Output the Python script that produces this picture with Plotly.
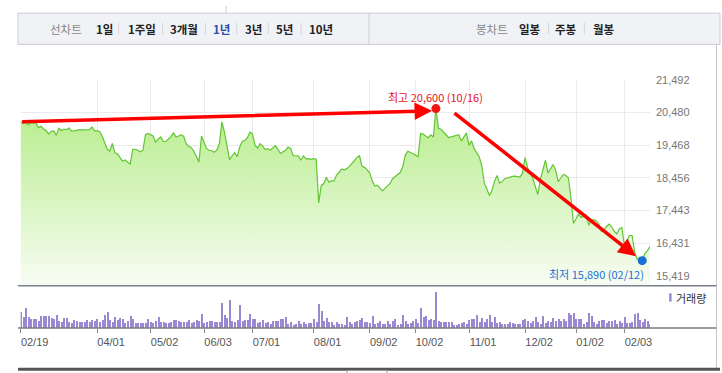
import plotly.graph_objects as go

W, H = 722, 373

# ---------------- data ----------------
tick_labels = ["02/19", "04/01", "05/02", "06/03", "07/01", "08/01",
               "09/02", "10/02", "11/01", "12/02", "01/02", "02/03"]
tick_index = [0, 30, 51, 72, 91, 115, 137, 155, 176, 198, 218, 237]

price = [
    20200, 20140, 20170, 20100, 20170, 20150, 20150, 20010, 20050, 19970,
    19920, 19810, 19900, 19910, 19770, 19990, 19920, 19960, 19950, 20000,
    19900, 19910, 19940, 19950, 19940, 19940, 19940, 19950, 20030, 19910,
    19910, 19890, 19750, 19560, 19340, 19280, 19520, 19230, 19200, 19080,
    18970, 19010, 18950, 18880, 19340, 19340, 19310, 19260, 19310, 19790,
    19830, 19790, 19750, 19560, 19660, 19720, 19580, 19580, 19660, 19730,
    19850, 19720, 19750, 19790, 19740, 19510, 19430, 19390, 19280, 19110,
    18950, 19750, 19540, 19360, 19310, 19300, 19250, 19310, 19510, 20190,
    19870, 19410, 19020, 19140, 19240, 19110, 19410, 19590, 19610, 19700,
    19870, 19820, 19460, 19380, 19510, 19440, 19330, 19360, 19310, 19390,
    19450, 19340, 19210, 19260, 19310, 19410, 19360, 19140, 19140, 19140,
    19000, 19140, 19040, 19050, 19030, 19050, 19030, 17680, 18220, 18280,
    18470, 18320, 18360, 18360, 18540, 18630, 18720, 18700, 18740, 18810,
    18890, 18990, 19090, 19140, 18820, 18780, 18700, 18610, 18370, 18200,
    18230, 18130, 18050, 18130, 18200, 18280, 18430, 18490, 18550, 18620,
    18800, 19160, 19280, 19230, 19200, 19160, 19110, 19830, 19810, 19750,
    19700, 19790, 19720, 20600, 19990, 19960, 19890, 19790, 19700, 19720,
    19750, 19770, 19790, 19600, 19740, 19850, 19460, 19600, 19360, 19230,
    19110, 18830, 18290, 18110, 17910, 18060, 18340, 18530, 18290, 18340,
    18430, 18450, 18480, 18500, 18510, 18490, 18480, 18600, 19080, 18770,
    18600, 18450, 18190, 17940, 18410, 18700, 19000, 18600, 18730, 18870,
    18700, 18340, 18450, 18560, 18530, 18460, 17840, 17040, 17180, 17330,
    17230, 17260, 17300, 16990, 17150, 17160, 17120, 17020, 16800, 16840,
    16950, 17020, 16940, 16800, 16720, 16870, 16920, 16360, 16520, 16670,
    16670, 16160, 15930, 15990, 15890, 16110, 16190, 16330,
]

volume_k = [
    47, 32, 59, 32, 26, 26, 26, 20, 35, 35,
    35, 35, 30, 26, 38, 20, 17, 29, 29, 17,
    14, 23, 20, 17, 17, 17, 23, 17, 23, 20,
    26, 17, 23, 38, 47, 23, 17, 32, 23, 29,
    26, 14, 20, 35, 26, 14, 14, 14, 14, 14,
    26, 17, 14, 20, 32, 17, 17, 14, 14, 17,
    23, 23, 20, 17, 17, 17, 23, 14, 17, 23,
    20, 41, 14, 17, 20, 20, 17, 17, 17, 74,
    38, 29, 83, 20, 17, 23, 68, 20, 23, 23,
    41, 26, 26, 14, 17, 23, 14, 17, 11, 20,
    20, 20, 26, 26, 32, 11, 17, 8, 11, 20,
    11, 17, 11, 14, 14, 26, 17, 71, 50, 20,
    29, 17, 17, 9, 16, 12, 12, 7, 31, 17,
    11, 17, 19, 22, 28, 16, 16, 14, 34, 11,
    14, 19, 11, 10, 19, 10, 19, 25, 9, 10,
    40, 19, 12, 13, 19, 25, 13, 61, 31, 34,
    22, 25, 22, 109, 19, 16, 16, 16, 16, 16,
    9, 7, 10, 13, 16, 11, 22, 25, 25, 37,
    16, 28, 16, 25, 40, 16, 31, 14, 16, 10,
    10, 10, 16, 14, 11, 11, 10, 22, 25, 19,
    13, 19, 31, 16, 10, 34, 13, 19, 16, 28,
    19, 25, 19, 25, 20, 46, 37, 46, 25, 25,
    25, 10, 16, 46, 34, 17, 10, 20, 22, 22,
    13, 20, 19, 22, 10, 19, 14, 31, 13, 13,
    16, 43, 46, 22, 16, 25, 19, 10,
]

y_ticks = [15419, 16431, 17443, 18456, 19468, 20480, 21492]

high_idx, high_val, high_date = 163, 20600, "10/16"
low_idx, low_val, low_date = 244, 15890, "02/12"

# drawn arrows (data coords: start -> tip)
arrow1 = dict(x0=0, y0=20190, x1=161.5, y1=20530)
arrow2 = dict(x0=169.7, y0=20500, x1=241.5, y1=16030)

period_tabs = ["1일", "1주일", "3개월", "1년", "3년", "5년", "10년"]
period_x = [104.5, 142.5, 185, 222.5, 254.5, 285.5, 321.5]
candle_tabs = ["일봉", "주봉", "월봉"]
candle_x = [531.5, 567.5, 605.5]

# ---------------- helpers ----------------
def px(x):
    return x / W

def py(y):
    return 1 - y / H

idx = list(range(len(price)))
N = len(price)

x_dom = [px(20.7), px(651.7)]
FONT = "Liberation Sans, Arial, Noto Sans CJK KR, sans-serif"
KFONT = "Noto Sans CJK KR, Liberation Sans, sans-serif"

fig = go.Figure()

fig.add_trace(go.Scatter(
    x=idx, y=price, mode="lines",
    line=dict(color="#62c534", width=1.2),
    fill="tozeroy",
    fillgradient=dict(type="vertical", start=15114, stop=20600,
                      colorscale=[[0, "#f9fdf5"], [1, "#b7ed8c"]]),
    hoverinfo="skip", xaxis="x", yaxis="y",
))

fig.add_trace(go.Scatter(
    x=[high_idx], y=[high_val], mode="markers",
    marker=dict(color="#f01414", size=9), xaxis="x", yaxis="y",
    cliponaxis=False,
))
fig.add_trace(go.Scatter(
    x=[low_idx], y=[low_val], mode="markers",
    marker=dict(color="#1b6fd8", size=9), xaxis="x", yaxis="y",
    cliponaxis=False,
))

fig.add_trace(go.Bar(
    x=idx, y=volume_k, width=0.4,
    marker=dict(color="#9b88d2", line=dict(width=0)),
    xaxis="x2", yaxis="y2",
))

fig.update_layout(
    width=W, height=H,
    margin=dict(l=0, r=0, t=0, b=0),
    paper_bgcolor="white", plot_bgcolor="rgba(0,0,0,0)",
    showlegend=False,
    bargap=0,
    xaxis=dict(domain=x_dom, range=[0, N - 1], tickvals=tick_index,
               showticklabels=False, showgrid=True, gridcolor="#ebebeb",
               gridwidth=1, zeroline=False, showline=False, ticks="",
               anchor="y"),
    yaxis=dict(domain=[py(284.3), py(75)], range=[15114, 21492],
               side="right", tickvals=y_ticks,
               ticktext=[f"{v:,}" for v in y_ticks],
               tickfont=dict(family=FONT, size=11, color="#777777"),
               showgrid=True, gridcolor="#ebebeb", zeroline=False,
               showline=False, ticks="", ticklabelstandoff=5, anchor="x"),
    xaxis2=dict(domain=x_dom, range=[0, N - 1], tickvals=tick_index,
                ticktext=tick_labels, ticks="outside", ticklen=4,
                tickcolor="#888888", showgrid=False, zeroline=False,
                showline=False, ticklabelshift=14,
                tickfont=dict(family=FONT, size=11, color="#555555"),
                anchor="y2"),
    yaxis2=dict(domain=[py(327.3), py(285)], range=[0, 127], visible=False,
                anchor="x2"),
)

shapes = []
# toolbar
shapes.append(dict(type="rect", xref="paper", yref="paper",
                   x0=px(18), x1=px(722), y0=py(39), y1=py(7.3),
                   fillcolor="#f0f2f6", line=dict(color="#c9cdd5", width=1)))
shapes.append(dict(type="line", xref="paper", yref="paper",
                   x0=px(370), x1=px(370), y0=py(39), y1=py(7.3),
                   line=dict(color="#c9cdd5", width=1)))
shapes.append(dict(type="line", xref="paper", yref="paper",
                   x0=px(226.7), x1=px(226.7), y0=py(7.3), y1=py(0),
                   line=dict(color="#cccccc", width=1)))
for sx in [119, 163, 206, 237.5, 269, 302, 550, 586]:
    shapes.append(dict(type="line", xref="paper", yref="paper",
                       x0=px(sx), x1=px(sx), y0=py(29), y1=py(17),
                       line=dict(color="#d3d6dc", width=1)))
# right border
shapes.append(dict(type="line", xref="paper", yref="paper",
                   x0=px(718.5), x1=px(718.5), y0=py(368), y1=py(39),
                   line=dict(color="#c8c8c8", width=1)))
# axis lines
shapes.append(dict(type="line", xref="paper", yref="paper",
                   x0=px(18), x1=px(718.5), y0=py(284.3), y1=py(284.3),
                   line=dict(color="#7b808c", width=1.4)))
shapes.append(dict(type="line", xref="paper", yref="paper",
                   x0=px(18), x1=px(718.5), y0=py(327.3), y1=py(327.3),
                   line=dict(color="#7b7b7b", width=1.4)))
shapes.append(dict(type="line", xref="paper", yref="paper",
                   x0=px(18), x1=px(722), y0=py(369.2), y1=py(369.2),
                   line=dict(color="#555555", width=3)))
shapes.append(dict(type="rect", xref="paper", yref="paper",
                   x0=px(348), x1=px(388), y0=py(374), y1=py(370.5),
                   fillcolor="white", line=dict(color="#999999", width=1)))
# volume legend swatch
shapes.append(dict(type="rect", xref="paper", yref="paper",
                   x0=px(671), x1=px(673.5), y0=py(300.5), y1=py(292),
                   fillcolor="#9b88d2", line=dict(width=0)))
fig.update_layout(shapes=shapes)

def label(x, y, text, size, color, xanchor="center"):
    return dict(xref="paper", yref="paper", x=px(x), y=py(y),
                xanchor=xanchor, yanchor="middle", text=text,
                showarrow=False, font=dict(family=KFONT, size=size, color=color))

ann = []
ann.append(label(66, 23, "선차트", 11.5, "#888888"))
for t, tx in zip(period_tabs, period_x):
    col = "#2c4fa8" if t == "1년" else "#222222"
    ann.append(label(tx, 23, f"<b>{t}</b>", 11.5, col))
ann.append(label(493.5, 23, "봉차트", 11.5, "#888888"))
for t, tx in zip(candle_tabs, candle_x):
    ann.append(label(tx, 23, f"<b>{t}</b>", 11.5, "#222222"))
ann.append(label(676, 296.5, "거래량", 11, "#333333", xanchor="left"))
# high / low labels
ann.append(dict(xref="x", yref="y", x=high_idx, y=high_val,
                xanchor="center", yanchor="middle",
                text=f"최고 {high_val:,} ({high_date})", showarrow=False,
                yshift=12, font=dict(family=KFONT, size=11, color="#e8111b")))
ann.append(dict(xref="x", yref="y", x=low_idx, y=low_val,
                xanchor="right", yanchor="middle", xshift=4, yshift=-13,
                text=f"최저 {low_val:,} ({low_date})", showarrow=False,
                font=dict(family=KFONT, size=11, color="#1b6fd8")))
# drawn arrows
for a in (arrow1, arrow2):
    ann.append(dict(xref="x", yref="y", axref="x", ayref="y",
                    x=a["x1"], y=a["y1"], ax=a["x0"], ay=a["y0"],
                    text="", showarrow=True, arrowhead=2, arrowsize=1,
                    arrowwidth=3.5, arrowcolor="#ff0000", standoff=0))
fig.update_layout(annotations=ann)

fig.write_html("out.html",
               config={"displayModeBar": False},
               post_script="document.body.style.margin='0';")
